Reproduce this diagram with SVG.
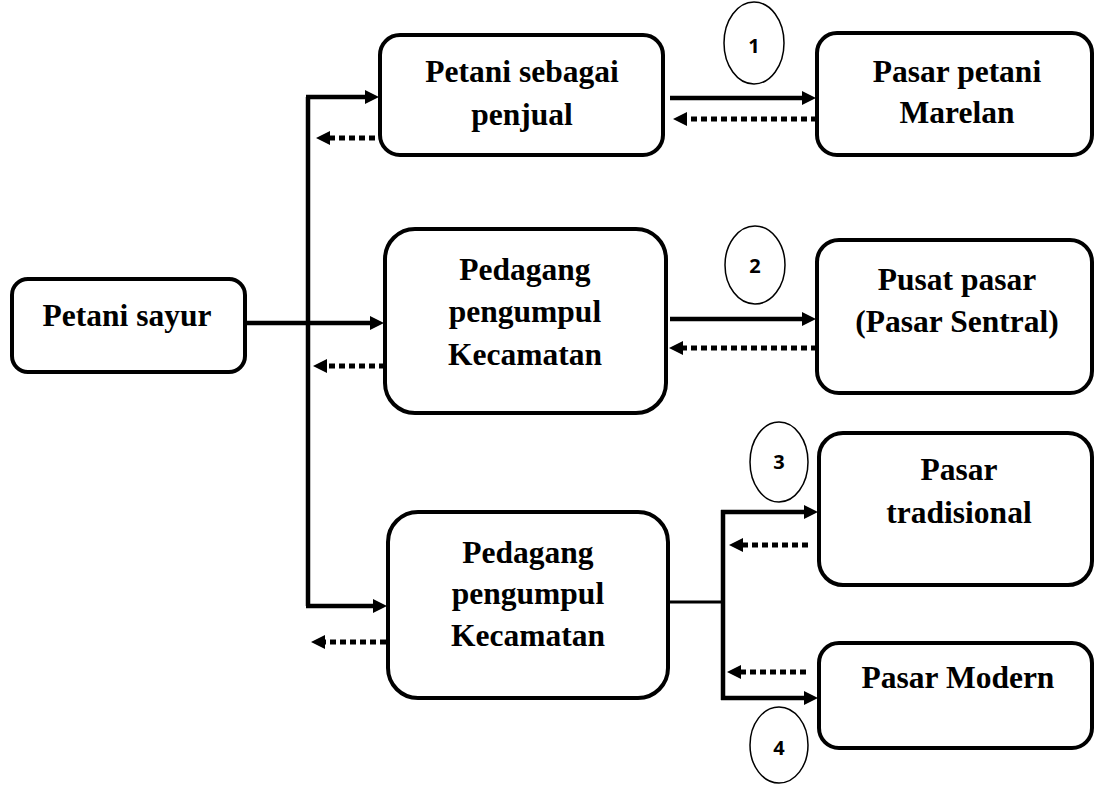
<svg xmlns="http://www.w3.org/2000/svg" width="1095" height="787" viewBox="0 0 1095 787">
<defs>
<style>
.box{fill:#fff;stroke:#000;stroke-width:4}
.t{font-family:"Liberation Serif","Times New Roman",serif;font-weight:bold;font-size:31.5px;fill:#000;text-anchor:middle}
.num{font-family:"Open Sans","Liberation Sans",sans-serif;font-weight:bold;font-size:20px;fill:#000;text-anchor:middle}
.circ{fill:#fff;stroke:#000;stroke-width:1.5}
.solid{fill:none;stroke:#000;stroke-width:4.5}
.dash{fill:none;stroke:#000;stroke-width:5;stroke-dasharray:6 4}
</style>
<marker id="ah" markerUnits="userSpaceOnUse" markerWidth="15" markerHeight="15" refX="1" refY="7" orient="auto">
<path d="M0,0 L14,7 L0,14 z" fill="#000"/>
</marker>
</defs>
<rect width="1095" height="787" fill="#fff"/>
<g id="connectors">
<path class="solid" d="M308,97 L308,606"/>
<path class="solid" d="M306,97 L366,97" marker-end="url(#ah)"/>
<path class="solid" d="M245,323 L371,323" marker-end="url(#ah)"/>
<path class="solid" d="M306,606 L374,606" marker-end="url(#ah)"/>
<path class="dash" d="M385,138 L329,138" marker-end="url(#ah)"/>
<path class="dash" d="M385,366 L326,366" marker-end="url(#ah)"/>
<path class="dash" d="M386,642 L324,642" marker-end="url(#ah)"/>
<path class="solid" d="M670,98 L803,98" marker-end="url(#ah)"/>
<path class="dash" d="M817,119 L686,119" marker-end="url(#ah)"/>
<path class="solid" d="M670,319 L803,319" marker-end="url(#ah)"/>
<path class="dash" d="M817,348 L682,348" marker-end="url(#ah)"/>
<path class="solid" style="stroke-width:3" d="M668,602 L723,602"/>
<path class="solid" d="M723,510 L723,700"/>
<path class="solid" d="M721,512 L805,512" marker-end="url(#ah)"/>
<path class="solid" d="M721,698 L805,698" marker-end="url(#ah)"/>
<path class="dash" d="M808,545 L742,545" marker-end="url(#ah)"/>
<path class="dash" d="M806,672 L740,672" marker-end="url(#ah)"/>
</g>
<g id="petani-sayur">
<rect class="box" x="12" y="279" width="233" height="93" rx="16"/>
<text class="t" x="127" y="326">Petani sayur</text>
</g>
<g id="petani-penjual">
<rect class="box" x="380" y="35" width="283" height="120" rx="20"/>
<text class="t" x="522" y="82">Petani sebagai</text>
<text class="t" x="522" y="125">penjual</text>
</g>
<g id="pedagang-1">
<rect class="box" x="385" y="229" width="281" height="184" rx="30"/>
<text class="t" x="525" y="280">Pedagang</text>
<text class="t" x="525" y="322">pengumpul</text>
<text class="t" x="525" y="365">Kecamatan</text>
</g>
<g id="pedagang-2">
<rect class="box" x="388" y="512" width="280" height="186" rx="30"/>
<text class="t" x="528" y="563">Pedagang</text>
<text class="t" x="528" y="604">pengumpul</text>
<text class="t" x="528" y="646">Kecamatan</text>
</g>
<g id="pasar-marelan">
<rect class="box" x="817" y="33" width="275" height="122" rx="20"/>
<text class="t" x="957" y="82">Pasar petani</text>
<text class="t" x="957" y="123">Marelan</text>
</g>
<g id="pusat-pasar">
<rect class="box" x="817" y="240" width="275" height="153" rx="22"/>
<text class="t" x="957" y="290">Pusat pasar</text>
<text class="t" x="957" y="332">(Pasar Sentral)</text>
</g>
<g id="pasar-tradisional">
<rect class="box" x="819" y="433" width="273" height="152" rx="24"/>
<text class="t" x="959" y="480">Pasar</text>
<text class="t" x="959" y="523">tradisional</text>
</g>
<g id="pasar-modern">
<rect class="box" x="819" y="643" width="273" height="105" rx="20"/>
<text class="t" x="958" y="688">Pasar Modern</text>
</g>
<g id="label-1">
<ellipse class="circ" cx="754" cy="43" rx="30" ry="41"/>
<text class="num" x="754" y="53">1</text>
</g>
<g id="label-2">
<ellipse class="circ" cx="755" cy="265" rx="30" ry="39"/>
<text class="num" x="755" y="273">2</text>
</g>
<g id="label-3">
<ellipse class="circ" cx="779" cy="462" rx="29" ry="40"/>
<text class="num" x="779" y="469">3</text>
</g>
<g id="label-4">
<ellipse class="circ" cx="779" cy="745" rx="29" ry="38"/>
<text class="num" x="779" y="755">4</text>
</g>
</svg>
